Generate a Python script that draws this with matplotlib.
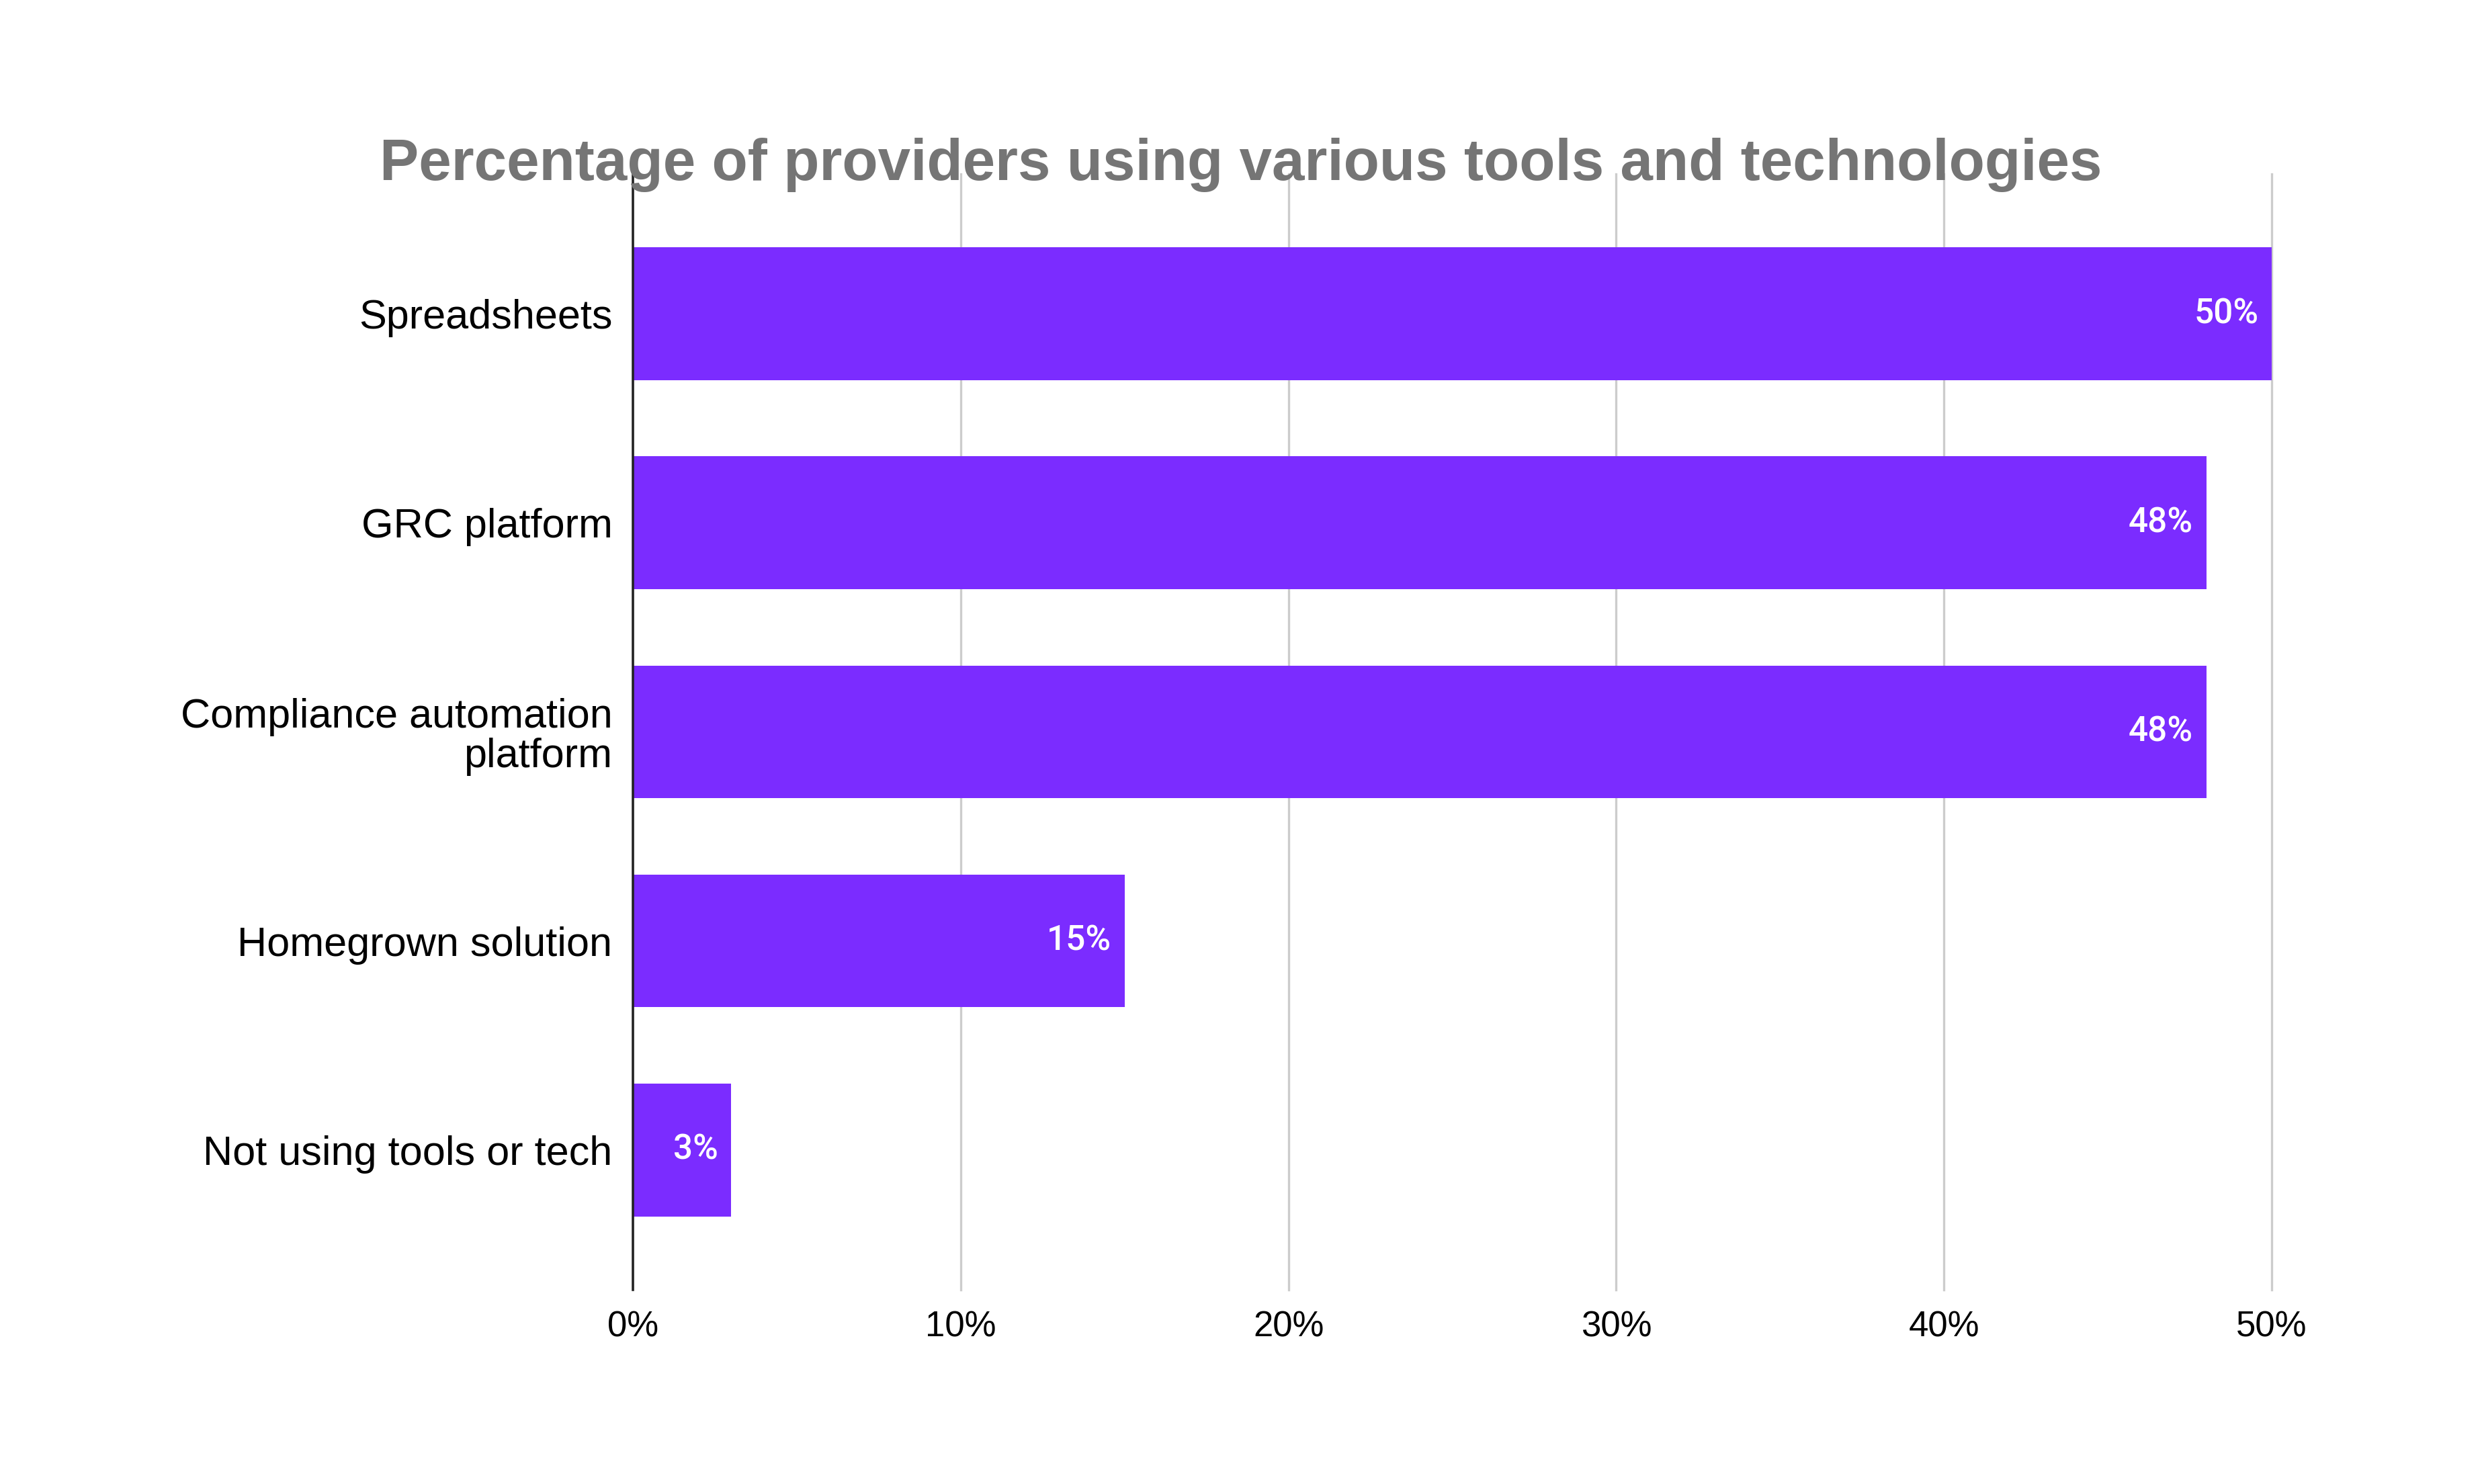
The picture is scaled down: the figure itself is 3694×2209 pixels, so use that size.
import matplotlib
matplotlib.use("Agg")
import matplotlib.pyplot as plt
import numpy as np

# data
categories = ["Spreadsheets", "GRC platform", "Compliance automation\nplatform",
              "Homegrown solution", "Not using tools or tech"]
values = [50, 48, 48, 15, 3]
xticks = [0, 10, 20, 30, 40, 50]
title = "Percentage of providers using various tools and technologies"

bar_color = "#7b2cff"

plt.rcParams['font.family'] = ['Liberation Sans', 'DejaVu Sans']

fig = plt.figure(figsize=(3694 / 200, 2209 / 200), dpi=200)
ax = fig.add_axes([0.2550, 0.1308, 0.6603, 0.7520])

y = np.arange(len(categories))
ax.barh(y, values, height=0.636, color=bar_color, zorder=3)

# value labels inside the bar ends
for yi, v in zip(y, values):
    ax.annotate(f"{v}%", (v, yi), xytext=(-7, 0), textcoords="offset points",
                ha="right", va="center", color="white", fontsize=18.5,
                family=["Roboto", "DejaVu Sans"], fontweight="medium", zorder=4)

ax.set_xlim(0, 50)
ax.set_ylim(len(categories) - 1 + 0.67, -0.67)
ax.set_yticks(y)
ax.set_yticklabels(categories, fontsize=22, linespacing=1.05)
ax.set_xticks(xticks)
ax.set_xticklabels([f"{t}%" for t in xticks], fontsize=19)
ax.tick_params(axis="both", length=0, pad=11)

# vertical gridlines
for t in xticks[1:]:
    ax.axvline(t, color="#cccccc", linewidth=1.2, zorder=1, clip_on=False)

for s in ["top", "right", "bottom"]:
    ax.spines[s].set_visible(False)
ax.spines["left"].set_color("#222222")
ax.spines["left"].set_linewidth(1.3)
ax.spines["left"].set_zorder(5)

fig.text(0.5, 0.889, title, ha="center", va="center", fontsize=31.4,
         fontweight="bold", color="#757575")

fig.savefig("out.png", dpi=200, facecolor="white")
